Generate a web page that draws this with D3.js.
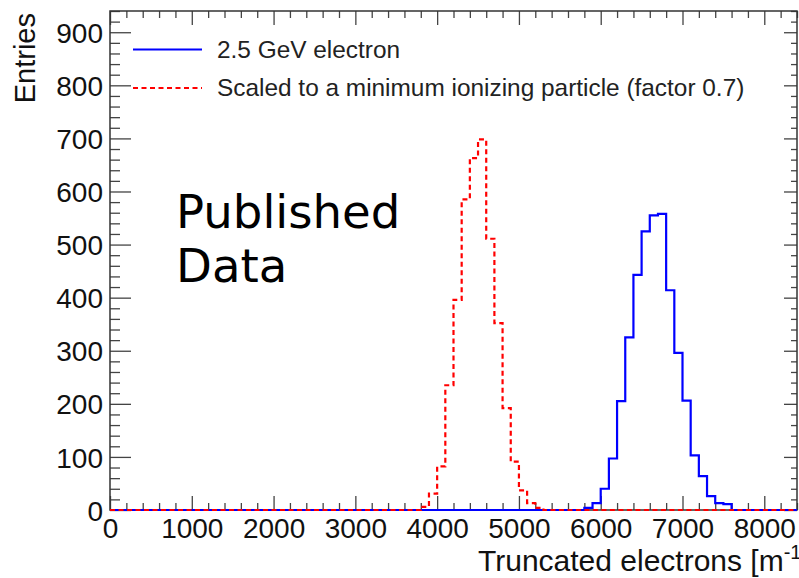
<!DOCTYPE html>
<html>
<head>
<meta charset="utf-8">
<script src="https://cdn.jsdelivr.net/npm/d3@7"></script>
<style>
  html, body { margin: 0; padding: 0; background: #fff; }
  svg { display: block; }
</style>
</head>
<body>
<svg id="chart" width="799" height="578"></svg>
<script>
// Histogram contents (entries per 100-electron bin)
const binWidth = 100;
const electronStart = 5800;
const electronCounts = [4, 13, 40, 97, 205, 325, 443, 525, 555, 558, 414, 296, 206, 103, 64, 26, 13, 11];
const mipStart = 3800;
const mipCounts = [6, 31, 82, 235, 396, 585, 663, 698, 511, 352, 192, 91, 37, 13, 4];

// Axis ticks
const xTicks = [0, 1000, 2000, 3000, 4000, 5000, 6000, 7000, 8000];
const yTicks = [0, 100, 200, 300, 400, 500, 600, 700, 800, 900];
const xRange = [0, 8400];
const yRange = [0, 940];

const seriesNames = ["2.5 GeV electron", "Scaled to a minimum ionizing particle (factor 0.7)"];
const xTitle = "Truncated electrons [m";
const yTitle = "Entries";
const noteLines = ["Published", "Data"];

const svg = d3.select("#chart");
const plotLeft = 110, plotRight = 797, plotTop = 11, plotBottom = 510;

const x = d3.scaleLinear().domain(xRange).range([plotLeft, plotRight]);
const y = d3.scaleLinear().domain(yRange).range([plotBottom, plotTop]);

const tickFont = "'Liberation Sans', Arial, Helvetica, sans-serif";

function styleAxis(g) {
  g.select(".domain").remove();
  g.selectAll(".tick line").attr("stroke", "#444").attr("stroke-width", 1.3);
  g.selectAll(".tick text")
    .attr("fill", "#111")
    .style("font-family", tickFont)
    .style("font-size", "28px");
}

const xMinor = d3.range(xRange[0], xRange[1] + 1, 200).filter(v => v % 1000 !== 0);
const yMinor = d3.range(yRange[0], yRange[1] + 1, 20).filter(v => v % 100 !== 0);

// bottom axis
svg.append("g").attr("transform", `translate(0,${plotBottom})`)
  .call(d3.axisBottom(x).tickValues(xMinor).tickSize(-7).tickFormat(""))
  .call(styleAxis);
svg.append("g").attr("transform", `translate(0,${plotBottom})`)
  .call(d3.axisBottom(x).tickValues(xTicks).tickSize(-14).tickPadding(8).tickFormat(d3.format("d")))
  .call(styleAxis);

// top axis
svg.append("g").attr("transform", `translate(0,${plotTop})`)
  .call(d3.axisTop(x).tickValues(xMinor).tickSize(-7).tickFormat(""))
  .call(styleAxis);
svg.append("g").attr("transform", `translate(0,${plotTop})`)
  .call(d3.axisTop(x).tickValues(xTicks).tickSize(-14).tickFormat(""))
  .call(styleAxis);

// left axis
svg.append("g").attr("transform", `translate(${plotLeft},0)`)
  .call(d3.axisLeft(y).tickValues(yMinor).tickSize(-10).tickFormat(""))
  .call(styleAxis);
svg.append("g").attr("transform", `translate(${plotLeft},0)`)
  .call(d3.axisLeft(y).tickValues(yTicks).tickSize(-21).tickPadding(7).tickFormat(d3.format("d")))
  .call(styleAxis)
  .call(g => g.selectAll(".tick text").attr("dy", "0.36em"));

// right axis
svg.append("g").attr("transform", `translate(${plotRight},0)`)
  .call(d3.axisRight(y).tickValues(yMinor).tickSize(-6).tickFormat(""))
  .call(styleAxis);
svg.append("g").attr("transform", `translate(${plotRight},0)`)
  .call(d3.axisRight(y).tickValues(yTicks).tickSize(-13).tickFormat(""))
  .call(styleAxis);

// frame
svg.append("rect")
  .attr("x", plotLeft).attr("y", plotTop)
  .attr("width", plotRight - plotLeft).attr("height", plotBottom - plotTop)
  .attr("fill", "none").attr("stroke", "#333").attr("stroke-width", 1.5);

// histogram outline: zero outside the filled bins, across the whole axis
function histPoints(start, counts) {
  const pts = [[xRange[0], 0]];
  counts.forEach((c, i) => pts.push([start + i * binWidth, c]));
  pts.push([start + counts.length * binWidth, 0]);
  pts.push([xRange[1], 0]);
  return pts;
}
const step = d3.line().x(d => x(d[0])).y(d => y(d[1])).curve(d3.curveStepAfter);

svg.append("path")
  .attr("d", step(histPoints(electronStart, electronCounts)))
  .attr("fill", "none").attr("stroke", "#0000ff").attr("stroke-width", 2.2)
  .attr("stroke-linejoin", "miter");

svg.append("path")
  .attr("d", step(histPoints(mipStart, mipCounts)))
  .attr("fill", "none").attr("stroke", "#ff0000").attr("stroke-width", 2.2)
  .attr("stroke-dasharray", "5,3.5");

// legend
const legend = svg.append("g");
const legendRows = [
  { name: seriesNames[0], color: "#0000ff", dash: null, ly: 49.5, ty: 58 },
  { name: seriesNames[1], color: "#ff0000", dash: "5,3.5", ly: 88, ty: 96 }
];
legendRows.forEach(r => {
  legend.append("line")
    .attr("x1", 133).attr("x2", 202).attr("y1", r.ly).attr("y2", r.ly)
    .attr("stroke", r.color).attr("stroke-width", 2.2)
    .attr("stroke-dasharray", r.dash);
  legend.append("text")
    .attr("x", 217).attr("y", r.ty)
    .attr("fill", "#222")
    .style("font-family", tickFont).style("font-size", "24.4px")
    .text(r.name);
});

// axis titles
const xt = svg.append("text")
  .attr("x", 478).attr("y", 571)
  .attr("fill", "#111")
  .style("font-family", tickFont).style("font-size", "30px")
  .text(xTitle);
xt.append("tspan").attr("dy", -12).style("font-size", "20px").text("-1");
xt.append("tspan").attr("dy", 12).text("]");

svg.append("text")
  .attr("transform", "translate(35,13) rotate(-90)")
  .attr("text-anchor", "end")
  .attr("fill", "#111")
  .style("font-family", tickFont).style("font-size", "29px")
  .text(yTitle);

// annotation
svg.append("g").selectAll("text").data(noteLines).join("text")
  .attr("x", 176).attr("y", (d, i) => 228 + i * 54)
  .attr("fill", "#000")
  .style("font-family", "'DejaVu Sans', Verdana, sans-serif")
  .style("font-size", "46.6px")
  .text(d => d);
</script>
</body>
</html>
